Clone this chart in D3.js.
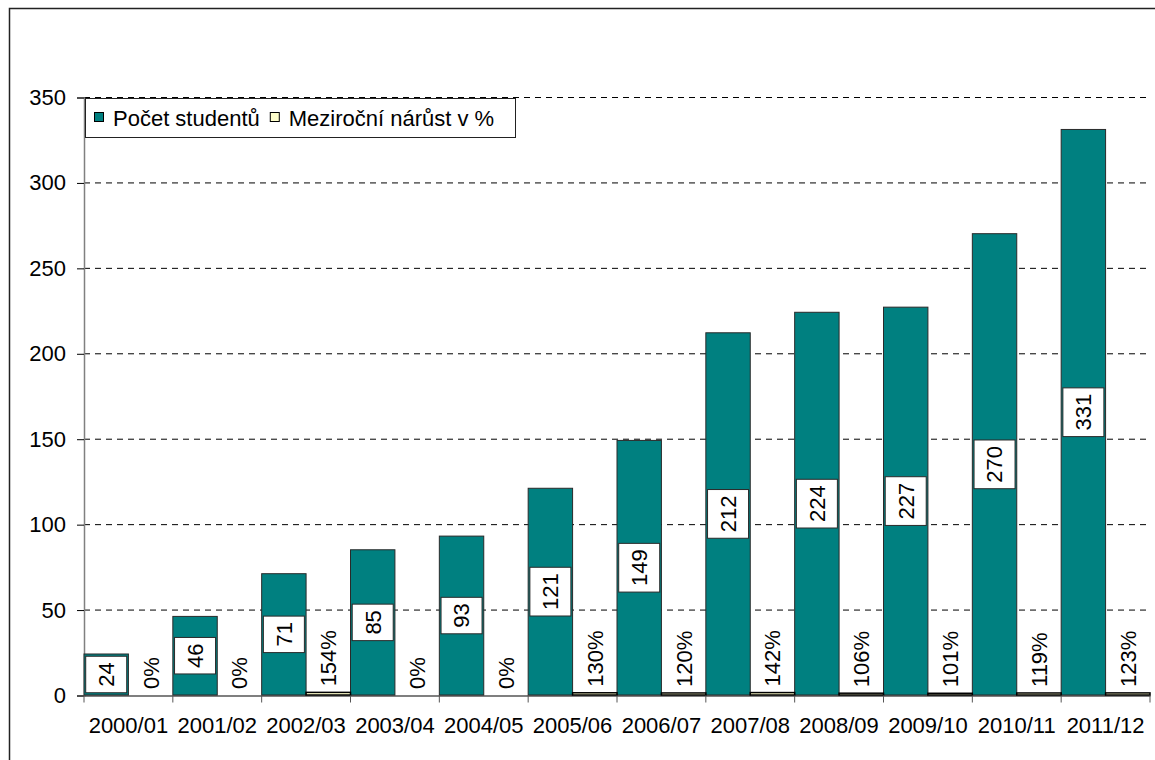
<!doctype html>
<html>
<head>
<meta charset="utf-8">
<style>
    body { margin: 0; background: #fff; }
    text { font-family: "Liberation Sans", Arial, sans-serif; fill: #000; }
</style>
<script src="https://d3js.org/d3.v7.min.js"></script>
</head>
<body>
<svg width="1155" height="760"></svg>
<script>
    // data
    var years = ["2000/01", "2001/02", "2002/03", "2003/04", "2004/05", "2005/06",
                 "2006/07", "2007/08", "2008/09", "2009/10", "2010/11", "2011/12"];
    var students = [24, 46, 71, 85, 93, 121, 149, 212, 224, 227, 270, 331];
    var growthPct = [0, 0, 154, 0, 0, 130, 120, 142, 106, 101, 119, 123];
    var yTicks = [0, 50, 100, 150, 200, 250, 300, 350];
    var seriesNames = ["Počet studentů", "Meziroční nárůst v %"];
    var seriesColors = ["#008080", "#FFFFCC"];

    var svg = d3.select("svg"),
        plotLeft = 84, plotRight = 1150, plotTop = 97, plotBottom = 695,
        fontSize = 22;

    // outer chart border
    svg.append("rect")
       .attr("x", 9.5).attr("y", 8.5)
       .attr("width", 1160).attr("height", 770)
       .attr("fill", "none")
       .attr("stroke", "#222")
       .attr("stroke-width", 1.5);

    var x = d3.scaleBand().domain(years).range([plotLeft, plotRight]).padding(0),
        sub = d3.scaleBand().domain([0, 1]).range([0, x.bandwidth()]).padding(0),
        y = d3.scaleLinear().domain([0, 350]).range([plotBottom, plotTop]);

    // gridlines
    svg.append("g").selectAll("line")
       .data(yTicks.filter(function(d) { return d > 0; }))
       .enter().append("line")
       .attr("x1", plotLeft).attr("x2", plotRight)
       .attr("y1", function(d) { return y(d) + 0.5; })
       .attr("y2", function(d) { return y(d) + 0.5; })
       .attr("stroke", "#000")
       .attr("stroke-dasharray", "6,5");

    // y axis
    var yAxis = svg.append("g")
       .attr("transform", "translate(" + plotLeft + ",0.5)")
       .call(d3.axisLeft(y).tickValues(yTicks).tickSize(7).tickPadding(11));
    yAxis.select(".domain").attr("stroke", "#808080").attr("stroke-width", 1.5);
    yAxis.selectAll(".tick line").attr("stroke", "#000");
    yAxis.selectAll("text")
         .style("font-family", "Liberation Sans, Arial, sans-serif")
         .style("font-size", fontSize + "px")
         .attr("fill", "#000");

    // bars: students
    svg.append("g").selectAll("rect")
       .data(students)
       .enter().append("rect")
       .attr("x", function(d, i) { return x(years[i]) + sub(0); })
       .attr("y", function(d) { return y(d); })
       .attr("width", sub.bandwidth())
       .attr("height", function(d) { return plotBottom - y(d); })
       .attr("fill", seriesColors[0])
       .attr("stroke", "#2a2a2a")
       .attr("stroke-width", 1);

    // bars: growth (plotted on same axis as fraction)
    svg.append("g").selectAll("rect")
       .data(growthPct)
       .enter().append("rect")
       .attr("x", function(d, i) { return x(years[i]) + sub(1); })
       .attr("y", function(d) { return y(d / 100); })
       .attr("width", sub.bandwidth())
       .attr("height", function(d) { return plotBottom - y(d / 100); })
       .attr("fill", seriesColors[1])
       .attr("stroke", "#000")
       .attr("stroke-width", function(d) { return d > 0 ? 1.5 : 0; });

    // x axis
    var xAxis = svg.append("g")
       .attr("transform", "translate(0," + (plotBottom + 0.5) + ")")
       .call(d3.axisBottom(x).tickSize(0).tickPadding(22));
    xAxis.select(".domain").attr("stroke", "#000").attr("stroke-width", 1.2);
    xAxis.selectAll("text")
         .style("font-family", "Liberation Sans, Arial, sans-serif")
         .style("font-size", fontSize + "px")
         .attr("fill", "#000");
    // tick marks at category boundaries
    xAxis.selectAll(".bound")
         .data(years.concat(["end"]))
         .enter().append("line")
         .attr("class", "bound")
         .attr("x1", function(d, i) { return plotLeft + i * x.bandwidth(); })
         .attr("x2", function(d, i) { return plotLeft + i * x.bandwidth(); })
         .attr("y1", 0).attr("y2", 7)
         .attr("stroke", "#555");

    // value labels for students (white boxes)
    var lab = svg.append("g").selectAll("g")
       .data(students)
       .enter().append("g")
       .attr("transform", function(d, i) {
           var cx = x(years[i]) + sub(0) + sub.bandwidth() / 2,
               cy = (y(d) + plotBottom) / 2;
           return "translate(" + cx + "," + cy + ") rotate(-90)";
       });
    lab.append("rect").attr("fill", "#fff").attr("stroke", "#2a2a2a").attr("stroke-width", 1);
    lab.append("text")
       .attr("text-anchor", "middle")
       .attr("dy", "0.36em")
       .style("font-size", fontSize + "px")
       .text(function(d) { return d; });
    lab.each(function() {
        var g = d3.select(this),
            w = g.select("text").node().getComputedTextLength() + 12;
        g.select("rect").attr("x", -w / 2).attr("y", -20.5).attr("width", w).attr("height", 41);
    });

    // percent labels
    svg.append("g").selectAll("text")
       .data(growthPct)
       .enter().append("text")
       .attr("transform", function(d, i) {
           var cx = x(years[i]) + sub(1) + sub.bandwidth() / 2;
           return "translate(" + cx + "," + (y(d / 100) - 6) + ") rotate(-90)";
       })
       .attr("dy", "0.36em")
       .style("font-size", fontSize + "px")
       .text(function(d) { return d + "%"; });

    // legend
    var legend = svg.append("g");
    legend.append("rect")
          .attr("x", 85.5).attr("y", 98.5)
          .attr("width", 430).attr("height", 39)
          .attr("fill", "#fff").attr("stroke", "#222");
    var lx = 94;
    seriesNames.forEach(function(name, i) {
        legend.append("rect")
              .attr("x", lx + 0.5).attr("y", 112.5)
              .attr("width", 9).attr("height", 9)
              .attr("fill", seriesColors[i]).attr("stroke", "#000");
        var t = legend.append("text")
              .attr("x", lx + 19).attr("y", 118)
              .attr("dy", "0.36em")
              .style("font-size", fontSize + "px")
              .text(name);
        lx = lx + 19 + t.node().getComputedTextLength() + 10;
    });
</script>
</body>
</html>
